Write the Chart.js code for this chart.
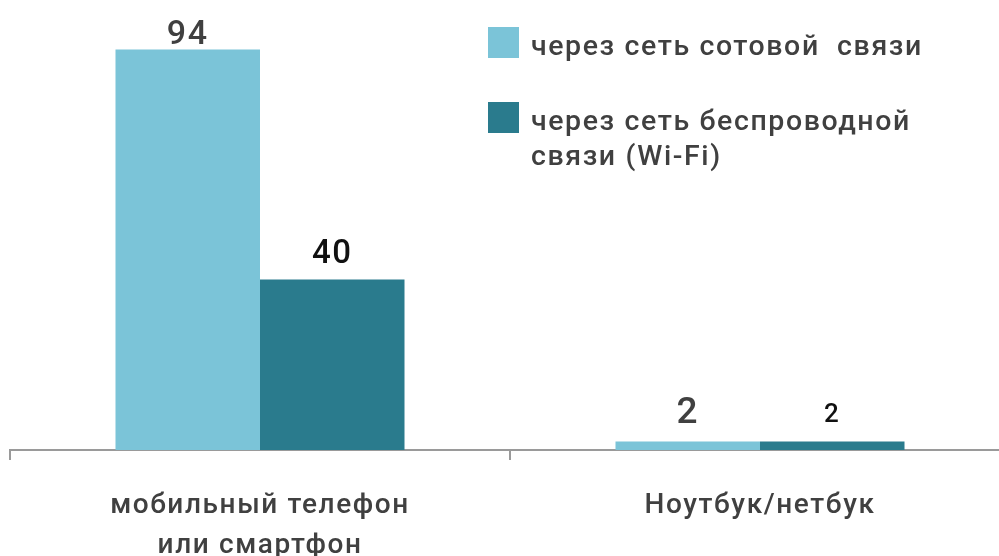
<!DOCTYPE html>
<html lang="ru">
<head>
<meta charset="utf-8">
<title>Доступ в интернет</title>
<script src="https://cdn.jsdelivr.net/npm/chart.js@4.4.1/dist/chart.umd.min.js"></script>
<style>
  html, body { margin: 0; padding: 0; background: #fff; overflow: hidden; }
  #wrap { width: 999px; height: 556px; overflow: hidden; }
  canvas { display: block; }
</style>
</head>
<body>
<div id="wrap"><canvas id="chart" width="1010" height="556"></canvas></div>
<script>
const categories = [['мобильный телефон', 'или смартфон'], 'Ноутбук/нетбук'];
const seriesNames = ['через сеть сотовой  связи', ['через сеть беспроводной', 'связи (Wi-Fi)']];
const cellular = [94, 2];
const wifi = [40, 2];

const light = '#7bc4d8', dark = '#2a7b8d';
const ink = '#404040', axisGrey = '#9a9a9a';
const family = "Roboto, 'DejaVu Sans', sans-serif";

// value labels above bars; styling per [dataset][index]
const labelStyle = [
  [{ size: 34, color: ink, gap: 6 }, { size: 37, color: ink, gap: 18 }],
  [{ size: 33, color: '#111', gap: 17 }, { size: 26, color: '#111', gap: 19 }]
];

const valueLabels = {
  id: 'valueLabels',
  afterDatasetsDraw(chart) {
    const ctx = chart.ctx;
    ctx.save();
    ctx.textAlign = 'center';
    ctx.textBaseline = 'alphabetic';
    chart.data.datasets.forEach((ds, di) => {
      chart.getDatasetMeta(di).data.forEach((bar, i) => {
        const st = labelStyle[di][i];
        ctx.font = `500 ${st.size}px ${family}`;
        ctx.fillStyle = st.color;
        ctx.fillText(String(ds.data[i]), bar.x, bar.y - st.gap);
      });
    });
    ctx.restore();
  }
};

// legend drawn at the top right, second entry wraps onto two lines
const sideLegend = {
  id: 'sideLegend',
  afterDraw(chart) {
    const ctx = chart.ctx;
    const rows = [{ y: 27, lines: [].concat(seriesNames[0]) }, { y: 102, lines: [].concat(seriesNames[1]) }];
    ctx.save();
    ctx.font = `500 28.5px ${family}`;
    ctx.textBaseline = 'alphabetic';
    rows.forEach((r, k) => {
      ctx.fillStyle = chart.data.datasets[k].backgroundColor;
      ctx.fillRect(488, r.y, 31, 31);
      ctx.fillStyle = ink;
      r.lines.forEach((t, j) => ctx.fillText(t, 531, r.y + 28 + j * 35));
    });
    ctx.restore();
  }
};

const spacing = {
  id: 'spacing',
  beforeDraw(chart) { chart.ctx.letterSpacing = '1.6px'; }
};

new Chart(document.getElementById('chart'), {
  type: 'bar',
  data: {
    labels: categories,
    datasets: [
      { label: 'cellular', data: cellular, backgroundColor: light },
      { label: 'wifi', data: wifi, backgroundColor: dark }
    ]
  },
  options: {
    responsive: false,
    animation: false,
    devicePixelRatio: 1,
    layout: { padding: { top: 24, left: 10, right: 0, bottom: 0 } },
    datasets: { bar: { categoryPercentage: 0.578, barPercentage: 1, borderWidth: 0 } },
    plugins: { legend: { display: false }, tooltip: { enabled: false } },
    scales: {
      y: { display: false, min: 0, max: 100 },
      x: {
        afterFit(scale) { scale.height = 106; },
        border: { display: true, color: axisGrey, width: 2 },
        grid: { display: true, drawOnChartArea: false, drawTicks: true, tickLength: 10, color: axisGrey, lineWidth: 2 },
        ticks: { color: ink, padding: 26, font: { family, size: 28, weight: 500, lineHeight: 1.43 }, maxRotation: 0, autoSkip: false }
      }
    }
  },
  plugins: [spacing, valueLabels, sideLegend]
});
</script>
</body>
</html>
